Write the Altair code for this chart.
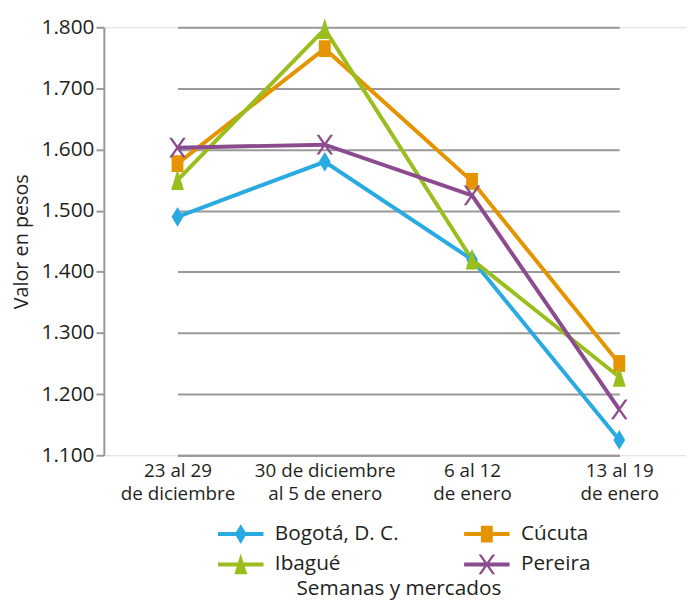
import altair as alt
import pandas as pd

semanas = ["23 al 29|de diciembre", "30 de diciembre|al 5 de enero",
           "6 al 12|de enero", "13 al 19|de enero"]
mercados = ["Bogotá, D. C.", "Cúcuta", "Ibagué", "Pereira"]
bogota = [1490, 1580, 1420, 1125]
cucuta = [1577, 1765, 1548, 1250]
ibague = [1550, 1797, 1420, 1228]
pereira = [1603, 1608, 1525, 1175]
colores = ["#29ABE2", "#E59400", "#99BE1E", "#8C4B8E"]
y_ticks = [1100, 1200, 1300, 1400, 1500, 1600, 1700, 1800]

# marker shapes (unit square paths, elongated like the reference)
formas = [
    "M0,-1L0.6,0L0,1L-0.6,0Z",
    "M-0.6,-0.85H0.6V0.85H-0.6Z",
    "M0,-1.1L0.65,1L-0.65,1Z",
    "M-0.84,-1L-0.56,-1L0.84,1L0.56,1ZM0.56,-1L0.84,-1L-0.56,1L-0.84,1Z",
]
barra = "M-2.3,-0.2H2.3V0.2H-2.3Z"
formas_leyenda = [barra + f for f in formas]

rows = []
for nombre, serie in zip(mercados, [bogota, cucuta, ibague, pereira]):
    for s, v in zip(semanas, serie):
        rows.append({"Semana": s, "Mercado": nombre, "Valor": v})
df = pd.DataFrame(rows)

FONT = "Open Sans"
TXT = "#231F20"

leyenda = alt.Legend(
    title=None, orient="none", legendX=115, legendY=502, columns=2,
    direction="horizontal", padding=0,
    symbolSize=400, symbolOffset=13, labelOffset=24, columnPadding=65,
    rowPadding=9, labelFontSize=21, labelFont=FONT, labelColor=TXT,
    symbolOpacity=1, symbolStrokeWidth=0, symbolType="circle",
)

x_enc = alt.X("Semana:N", sort=semanas,
              scale=alt.Scale(range=[74.5, 521.5], padding=0),
              axis=alt.Axis(title="Semanas y mercados", labelExpr="split(datum.label, '|')",
                            labelAngle=0, ticks=False, labelPadding=7,
                            labelLineHeight=23, labelFontSize=19, labelFont=FONT,
                            labelColor=TXT, titleFont=FONT, titleFontSize=21,
                            titleFontWeight="normal", titleColor=TXT,
                            titleY=135, titleBaseline="middle",
                            domainColor="#999999", domainWidth=2, grid=False))
y_enc = alt.Y("Valor:Q", scale=alt.Scale(domain=[1100, 1800], nice=False, zero=False),
              axis=alt.Axis(title="Valor en pesos", values=y_ticks,
                            labelExpr="replace(format(datum.value, ','), ',', '.')",
                            labelFontSize=21, labelFont=FONT, labelColor=TXT,
                            tickSize=8, tickColor="#999999", tickWidth=2, labelPadding=2,
                            titleFont=FONT, titleFontSize=20, titleFontWeight="normal",
                            titleColor=TXT, titleX=-83, titleY=216.5, titleAngle=-90,
                            titleBaseline="middle", titleAlign="center",
                            domainColor="#999999", domainWidth=2,
                            gridColor="#999999", gridWidth=2))
color_scale = alt.Scale(domain=mercados, range=colores)
color_enc = alt.Color("Mercado:N", scale=color_scale, legend=leyenda)

lineas = alt.Chart(df).mark_line(strokeWidth=4).encode(
    x=x_enc, y=y_enc, color=color_enc, detail="Mercado:N",
)

capas = [lineas]
for nombre, forma in zip(mercados, formas):
    capas.append(
        alt.Chart(df).transform_filter(alt.datum.Mercado == nombre)
        .mark_point(filled=True, size=400, opacity=1, shape=forma)
        .encode(x=x_enc, y=y_enc, color=color_enc)
    )

capa_leyenda = alt.Chart(df).mark_point(filled=True, size=400, opacity=0).encode(
    x=x_enc, y=y_enc, color=color_enc,
    shape=alt.Shape("Mercado:N", scale=alt.Scale(domain=mercados, range=formas_leyenda),
                    legend=leyenda),
)
capas.append(capa_leyenda)

chart = alt.layer(*capas).properties(
    width=589, height=433,
    autosize=alt.AutoSizeParams(type="none"),
    padding={"left": 97, "top": 16, "right": 0, "bottom": 146},
).configure_view(stroke=None).configure(background="white")

chart.save("out.html", embed_options={"renderer": "svg", "actions": False})
